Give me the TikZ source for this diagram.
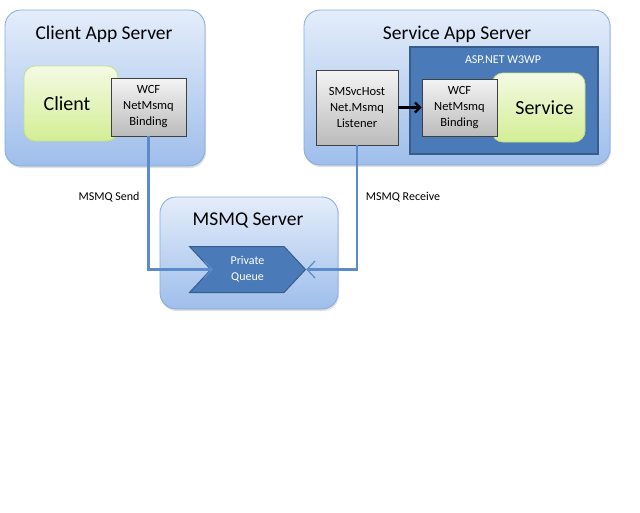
\documentclass[tikz,border=0pt]{standalone}
\usepackage{fontspec}
\setmainfont{Carlito}
\usetikzlibrary{arrows.meta,shadows,shapes.symbols}

\definecolor{srvtop}{HTML}{E4EDFA}
\definecolor{srvbot}{HTML}{9EBEEB}
\definecolor{srvline}{HTML}{84ABDD}
\definecolor{apptop}{HTML}{F4FAE4}
\definecolor{appbot}{HTML}{D3EE94}
\definecolor{appline}{HTML}{C2DF88}
\definecolor{bindtop}{HTML}{F4F4F4}
\definecolor{bindbot}{HTML}{BBBBBB}
\definecolor{darkblue}{HTML}{4A7BB8}
\definecolor{darkline}{HTML}{385D8A}
\definecolor{linkblue}{HTML}{5B8BC8}

\begin{document}
\begin{tikzpicture}[x=1pt,y=-1pt,
  server/.style={draw=srvline, line width=0.8pt, rounded corners=16pt, top color=srvtop, bottom color=srvbot, drop shadow={opacity=0.25, shadow xshift=1pt, shadow yshift=-2pt}},
  app/.style={draw=appline, line width=0.8pt, rounded corners=11pt, top color=apptop, bottom color=appbot, font=\fontsize{20}{24}\selectfont},
  bind/.style={draw=black!75, line width=0.9pt, top color=bindtop, bottom color=bindbot, align=center, font=\fontsize{12.5}{16}\selectfont},
  title/.style={font=\fontsize{19.5}{23}\selectfont},
  small/.style={font=\fontsize{12}{14}\selectfont},
  link/.style={draw=linkblue, line width=2.6pt, -{Straight Barb[line width=1.2pt, length=8pt, width=17pt]}}
]
\useasboundingbox (0,0) rectangle (640,512);

% servers
\node[server, minimum width=200, minimum height=156] (1) at (105,88) {};
\node[server, minimum width=306, minimum height=155] (2) at (457,87.5) {};
\node[server, minimum width=178, minimum height=112] (3) at (249,253) {};

\node[title] (t1) at (104,34) {Client App Server};
\node[title] (t2) at (457,34) {Service App Server};
\node[title] (t3) at (248,220) {MSMQ Server};

% client side
\node[app, minimum width=94, minimum height=75, text depth=0pt] (c) at (71,103.5) {\hspace*{-8pt}Client};
\node[bind, minimum width=75, minimum height=58] (b1) at (148.5,107) {WCF\\NetMsmq\\Binding};

% service side
\node[draw=darkline, line width=1.4pt, fill=darkblue, minimum width=188, minimum height=107] (w) at (504,100.5) {};
\node[small, text=white] (tw) at (503,60) {ASP.NET W3WP};
\node[bind, minimum width=82, minimum height=75] (h) at (357,107.5) {SMSvcHost\\Net.Msmq\\Listener};
\node[app, minimum width=93, minimum height=69] (s) at (538.5,107.5) {\hspace*{12pt}Service};
\node[bind, minimum width=75, minimum height=57] (b2) at (459.5,107.5) {WCF\\NetMsmq\\Binding};

% queue
\node[signal, signal to=east, signal from=west, signal pointer angle=94, draw=darkline, line width=1pt, fill=darkblue, text=white, align=center, minimum width=116, minimum height=46, font=\fontsize{12}{16}\selectfont] (q) at (247.5,269.5) {Private\\Queue};
\coordinate (qin) at (213,269.5);

\node[small] (l1) at (109,197) {MSMQ Send};
\node[small] (l2) at (403,197) {MSMQ Receive};

\path[draw,line width=2.2pt,-{Straight Barb[length=5pt,width=10pt]}] (h) -- (b2);
\path[link] (b1.south) |- (qin);
\path[link] (h.south) |- (q);
\end{tikzpicture}
\end{document}
